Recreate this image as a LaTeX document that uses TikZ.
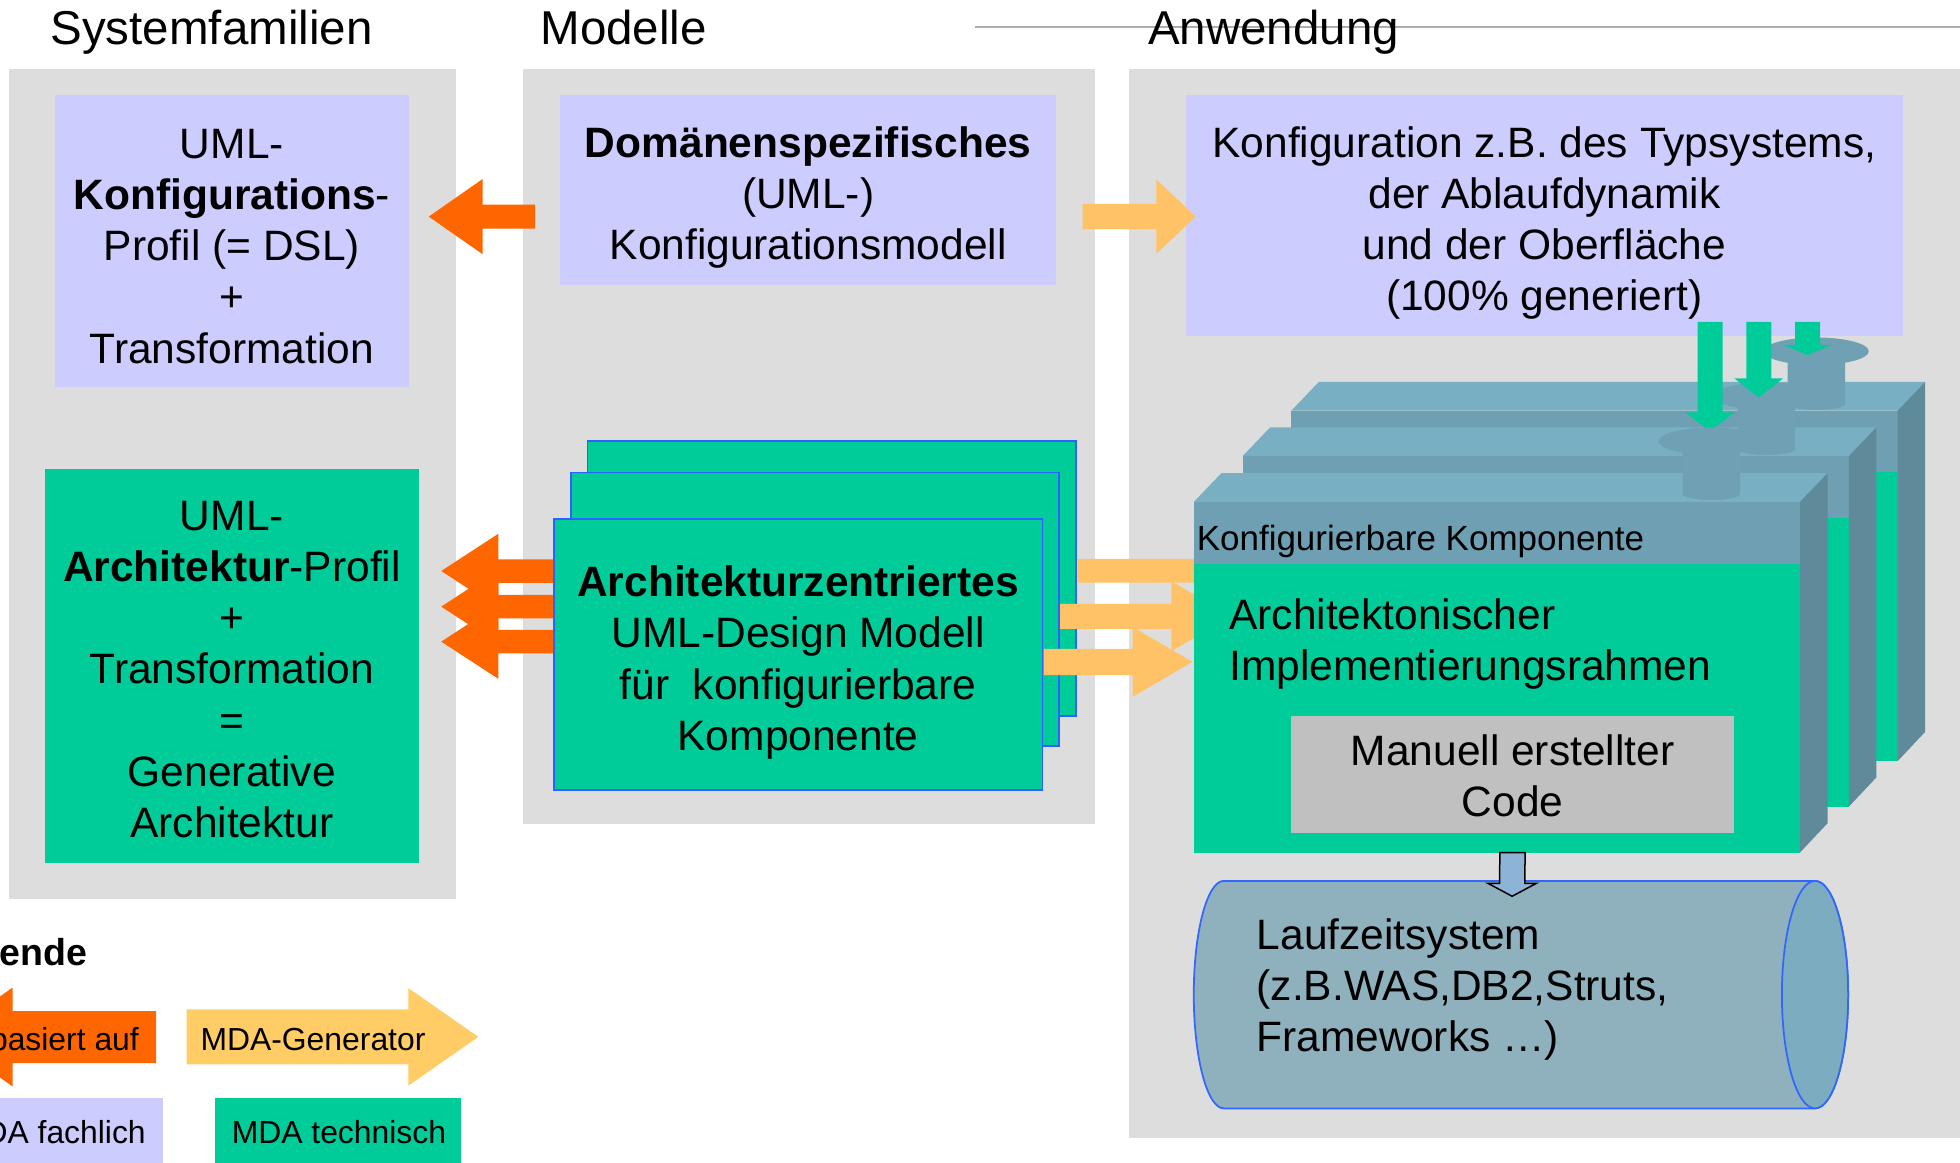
\documentclass[tikz,border=0pt]{standalone}
\usepackage{fontspec}
\setmainfont{Liberation Sans}
\usetikzlibrary{calc}

\definecolor{bggray}{HTML}{DDDDDD}
\definecolor{lav}{HTML}{CCCCFF}
\definecolor{mdagreen}{HTML}{00CC99}
\definecolor{basorange}{HTML}{FF6600}
\definecolor{genorange}{HTML}{FFC266}
\definecolor{legorange}{HTML}{FFCC66}
\definecolor{stackblue}{HTML}{2E62FF}
\definecolor{topface}{HTML}{79AFC2}
\definecolor{bandface}{HTML}{6E9FB3}
\definecolor{sideface}{HTML}{5E8A9A}
\definecolor{portcol}{HTML}{6FA0B4}
\definecolor{codegray}{HTML}{C0C0C0}
\definecolor{rtbody}{HTML}{8FB1BD}
\definecolor{rtcap}{HTML}{7BACC0}
\definecolor{rtline}{HTML}{3366FF}
\definecolor{downfill}{HTML}{8DB4D7}
\definecolor{rulegray}{HTML}{ADADAD}

% horizontal block arrow: style, tail, tip, shaft half height, head half height, head length (signed)
\newcommand\hblock[6]{\fill[#1] ($(#2)+(0,-#4)$) -- ($(#3)+(#6,-#4)$) -- ($(#3)+(#6,-#5)$) -- (#3)
  -- ($(#3)+(#6,#5)$) -- ($(#3)+(#6,#4)$) -- ($(#2)+(0,#4)$) -- cycle;}
% downward block arrow: style, tail, tip, shaft half width, head half width, head length
\newcommand\vblock[6]{\fill[#1] ($(#2)+(-#4,0)$) -- ($(#3)+(-#4,-#6)$) -- ($(#3)+(-#5,-#6)$) -- (#3)
  -- ($(#3)+(#5,-#6)$) -- ($(#3)+(#4,-#6)$) -- ($(#2)+(#4,0)$) -- cycle;}

\begin{document}
\begin{tikzpicture}[x=0.5pt,y=-0.5pt,
  txt/.style={inner sep=0pt, align=center, font=\fontsize{17}{20.5}\selectfont},
  plainbox/.style={inner sep=0pt, rectangle},
  colhead/.style={inner sep=0pt, anchor=base west, font=\fontsize{19}{22}\selectfont},
  legtxt/.style={inner sep=0pt, font=\fontsize{12.75}{15}\selectfont},
  panel/.style={fill=bggray},
  stackbox/.style={draw=stackblue, line width=0.75pt, fill=mdagreen},
  compbox/.pic={
    \fill[topface] (0,0) -- (22,-23) -- (507,-23) -- (485,0) -- cycle;
    \fill[bandface] (0,0) rectangle (485,49.4);
    \fill[mdagreen] (0,49.4) rectangle (485,280.4);
    \fill[sideface] (485,0) -- (507,-23) -- (507,257) -- (485,280.4) -- cycle;
  },
  portcyl/.pic={
    \fill[portcol] (-23,0) -- (-23,42) arc[start angle=180, end angle=0, x radius=23, y radius=5] -- (23,0) -- cycle;
    \fill[portcol] (0,0) ellipse [x radius=42, y radius=11];
  }]

\useasboundingbox (0,0) rectangle (1568,930);
\clip (0,0) rectangle (1568,930);
\fill[white] (0,0) rectangle (1568,930);

% column panels
\fill[panel] (7,55) rectangle (365,719);
\fill[panel] (418,55) rectangle (876,659);
\fill[panel] (903,55) rectangle (1568,910);

\draw[rulegray, line width=0.9pt] (780,21.5) -- (1568,21.5);

\node[colhead] (hsys) at (40,36) {Systemfamilien};
\node[colhead] (hmod) at (432,36) {Modelle};
\node[colhead] (hanw) at (918,36) {Anwendung};

% upper row
\node[plainbox, fill=lav, minimum width=141.5pt, minimum height=117pt] (kprof) at (185.5,193) {};
\node[txt] (kprof-t) at ($(kprof.center)+(0,4)$)
  {UML-\\\textbf{Konfigurations}-\\Profil (= DSL)\\+\\Transformation};
\node[plainbox, fill=lav, minimum width=198.5pt, minimum height=76pt] (dsm) at (646.5,152) {};
\node[txt] (dsm-t) at ($(dsm.center)+(0,6)$)
  {\textbf{Domänenspezifisches}\\(UML-)\\Konfigurationsmodell};
\node[plainbox, fill=lav, minimum width=286.5pt, minimum height=96.5pt] (konf) at (1235.5,172.5) {};
\node[txt] (konf-t) at ($(konf.center)+(0,6)$)
  {Konfiguration z.B. des Typsystems,\\der Ablaufdynamik\\und der Oberfläche\\(100\% generiert)};

% architecture profile
\node[plainbox, fill=mdagreen, minimum width=149.5pt, minimum height=157.5pt] (aprof) at (185.5,532.5) {};
\node[txt] (aprof-t) at ($(aprof.center)+(0,3)$)
  {UML-\\\textbf{Architektur}-Profil\\+\\Transformation\\=\\Generative\\Architektur};

% "basiert auf" arrows
\coordinate (o1t) at (428,173.3);
\coordinate (o1h) at (343,173.3);
\hblock{basorange}{o1t}{o1h}{9.6}{30}{43}
\coordinate (o2t) at (443,456.8);
\coordinate (o2h) at (353,456.8);
\coordinate (o3t) at (443,485.3);
\coordinate (o3h) at (353,485.3);
\coordinate (o4t) at (443,513.3);
\coordinate (o4h) at (353,513.3);
\hblock{basorange}{o2t}{o2h}{9.4}{29.8}{45.7}
\hblock{basorange}{o3t}{o3h}{9.4}{29.8}{45.7}
\hblock{basorange}{o4t}{o4h}{9.4}{29.8}{45.7}

% stacked design models
\draw[stackbox] (470,353) rectangle (861,573);
\draw[stackbox] (457,378) rectangle (847,597);
\node[plainbox, stackbox, minimum width=195.5pt, minimum height=108.5pt] (adm) at (638.5,523.5) {};
\node[txt] (adm-t) at ($(adm.center)+(0,6.5)$)
  {\textbf{Architekturzentriertes}\\UML-Design Modell\\für~~konfigurierbare\\Komponente};

% generator arrows
\coordinate (y1t) at (866,173.3);
\coordinate (y1h) at (956.5,173.3);
\hblock{genorange}{y1t}{y1h}{10.1}{29.8}{-31.5}
\coordinate (y2t) at (862,456.5);
\coordinate (y2h) at (1010,456.5);
\coordinate (y3t) at (848,493);
\coordinate (y3h) at (985,493);
\coordinate (y4t) at (835,529.5);
\coordinate (y4h) at (954,529.5);
\hblock{genorange}{y2t}{y2h}{9.5}{28}{-48}
\hblock{genorange}{y3t}{y3h}{10}{28}{-48}
\hblock{genorange}{y4t}{y4h}{10.5}{28}{-48}

% configurable components, back to front
\pic at (1033,328.6) {compbox};
\pic at (1453,281) {portcyl};
\coordinate (g3t) at (1446,257.6);
\coordinate (g3h) at (1446,284);
\vblock{mdagreen}{g3t}{g3h}{10}{19}{8}
\pic at (994,365) {compbox};
\pic at (1413,317) {portcyl};
\coordinate (g2t) at (1407,257.6);
\coordinate (g2h) at (1407,318);
\vblock{mdagreen}{g2t}{g2h}{10}{19.5}{15.3}
\coordinate (g1t) at (1368,257.6);
\coordinate (g1h) at (1368,345);
\vblock{mdagreen}{g1t}{g1h}{10}{19.5}{15}
\pic at (955,401.6) {compbox};
\pic at (1369,353) {portcyl};

\node[inner sep=0pt, anchor=base west, font=\fontsize{14}{16}\selectfont] (kk) at (957,440.8)
  {Konfigurierbare Komponente};
\node[txt, align=left, anchor=west] (impl) at (983,515.4)
  {Architektonischer\\Implementierungsrahmen};
\node[plainbox, fill=codegray, minimum width=177pt, minimum height=47pt] (code) at (1210,619.6) {};
\node[txt] (code-t) at ($(code.center)+(0,1)$) {Manuell erstellter\\Code};

% runtime system
\path[draw=rtline, fill=rtbody, line width=0.7pt] (979,704.7)
  arc[start angle=270, end angle=90, x radius=24, y radius=91] -- (1452,886.7)
  arc[start angle=90, end angle=-90, x radius=26.5, y radius=91] -- cycle;
\draw[rtline, line width=0.7pt, fill=rtcap] (1452,795.7) ellipse [x radius=26.5, y radius=91];
\node[txt, align=left, anchor=west] (lz) at (1005,791.5)
  {Laufzeitsystem\\(z.B.WAS,DB2,Struts,\\Frameworks …)};

\coordinate (dt) at (code.south |- 0,682);
\coordinate (dh) at (1209.7,717);
\vblock{downfill,draw=black,line width=0.6pt}{dt}{dh}{10.1}{19.3}{10.3}

% legend
\node[inner sep=0pt, anchor=base east, font=\bfseries\fontsize{15}{18}\selectfont] (leg) at (70,772) {Legende};
\coordinate (lbt) at (124.8,829.6);
\coordinate (lbh) at (-46,829.6);
\hblock{basorange}{lbt}{lbh}{20.8}{39.5}{56}
\node[legtxt, anchor=base east] (lb) at (111.5,840) {basiert auf};
\coordinate (lgt) at (149.3,829.5);
\coordinate (lgh) at (382.7,829.5);
\hblock{legorange}{lgt}{lgh}{22}{39}{-56}
\node[legtxt, anchor=base west] (lg) at (160,840) {MDA-Generator};
\fill[lav] (-5,878) rectangle (130,935);
\node[legtxt, anchor=base east] (lf) at (117,914.7) {MDA fachlich};
\fill[mdagreen] (172,878) rectangle (369,935);
\node[legtxt, anchor=base west] (lt) at (185,914.7) {MDA technisch};
\end{tikzpicture}
\end{document}
